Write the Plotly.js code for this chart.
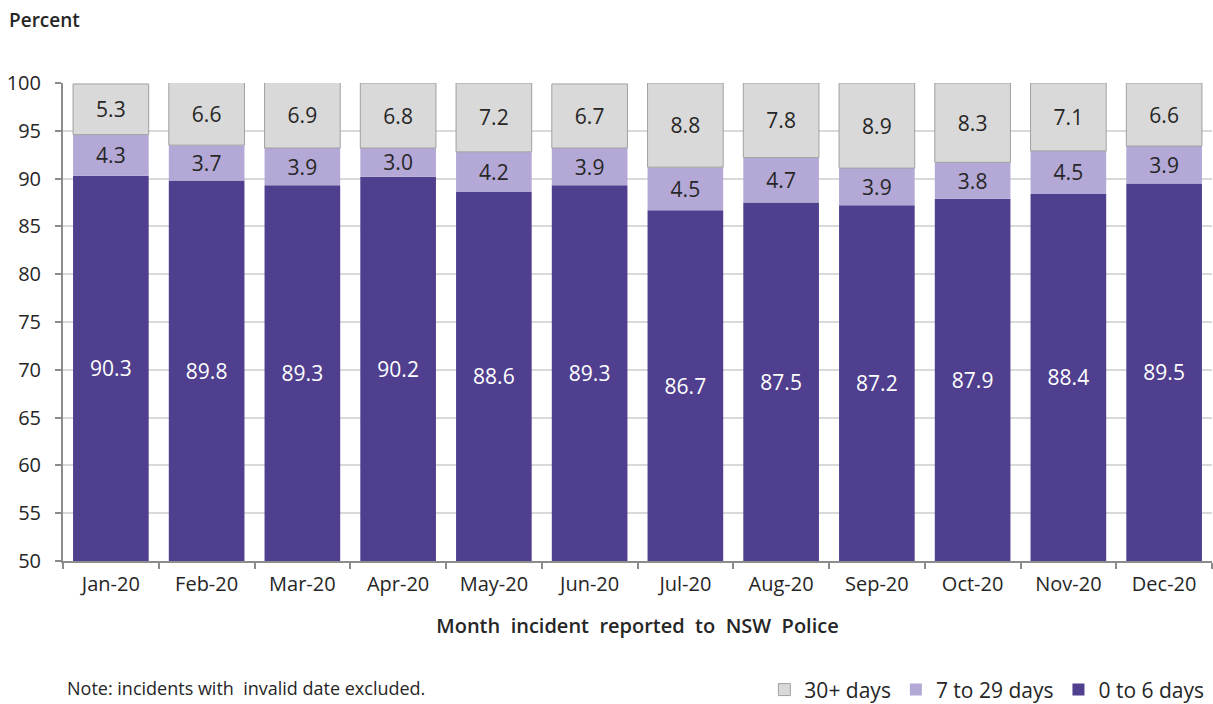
<!DOCTYPE html>
<html>
<head>
<meta charset="utf-8">
<script src="https://cdn.plot.ly/plotly-3.0.1.min.js"></script>
<style>html,body{margin:0;padding:0;background:#fff;}#chart{width:1213px;height:704px;}</style>
</head>
<body>
<div id="chart"></div>
<script>
var months = ["Jan-20","Feb-20","Mar-20","Apr-20","May-20","Jun-20","Jul-20","Aug-20","Sep-20","Oct-20","Nov-20","Dec-20"];
var days0to6 = [90.3,89.8,89.3,90.2,88.6,89.3,86.7,87.5,87.2,87.9,88.4,89.5];
var days7to29 = [4.3,3.7,3.9,3.0,4.2,3.9,4.5,4.7,3.9,3.8,4.5,3.9];
var days30plus = [5.3,6.6,6.9,6.8,7.2,6.7,8.8,7.8,8.9,8.3,7.1,6.6];
var axisMin = 50;

var FONT = "Open Sans, Noto Sans, sans-serif";
var fmt = function(v){ return v.toFixed(1); };

var base1 = days0to6.map(function(){ return axisMin; });
var len1 = days0to6.map(function(v){ return v - axisMin; });
var base2 = days0to6.slice();
var base3 = days0to6.map(function(v,i){ return v + days7to29[i]; });

var common = {
  type: "bar", x: months, width: 0.79,
  textposition: "inside", insidetextanchor: "middle", constraintext: "none",
  hoverinfo: "skip", cliponaxis: true
};

var t1 = Object.assign({}, common, {
  name: "0 to 6 days", base: base1, y: len1,
  text: days0to6.map(fmt), texttemplate: "%{text}",
  textfont: {family: FONT, size: 21, color: "#ffffff"},
  marker: {color: "#4F3F8E", line: {width: 0}}
});
var t2 = Object.assign({}, common, {
  name: "7 to 29 days", base: base2, y: days7to29,
  text: days7to29.map(fmt), texttemplate: "%{text}",
  textfont: {family: FONT, size: 21, color: "#262626"},
  marker: {color: "#B4A9D6", line: {width: 0}}
});
var t3 = Object.assign({}, common, {
  name: "30+ days", base: base3, y: days30plus,
  text: days30plus.map(fmt), texttemplate: "%{text}",
  textfont: {family: FONT, size: 21, color: "#262626"},
  marker: {color: "#D9D9D9", line: {width: 1, color: "#A0A0A0"}}
});

var layout = {
  width: 1213, height: 704,
  margin: {l: 63, r: 1, t: 83, b: 143},
  paper_bgcolor: "#ffffff", plot_bgcolor: "#ffffff",
  font: {family: FONT, size: 20, color: "#262626"},
  barmode: "overlay",
  showlegend: true,
  legend: {
    orientation: "h", traceorder: "reversed",
    xref: "container", yref: "container",
    x: 0.997, xanchor: "right", y: 0.02, yanchor: "middle",
    font: {family: FONT, size: 21, color: "#262626"},
    itemwidth: 30, bgcolor: "rgba(0,0,0,0)"
  },
  xaxis: {
    type: "category",
    showline: true, linecolor: "#8C8C8C", linewidth: 2,
    ticks: "outside", tickson: "boundaries", ticklen: 6, tickcolor: "#8C8C8C", tickwidth: 2,
    showgrid: false, zeroline: false,
    tickfont: {family: FONT, size: 20, color: "#262626"},
    ticklabelstandoff: 4,
    title: {text: "Month  incident  reported  to  NSW  Police", font: {family: FONT, size: 20, color: "#262626", weight: 600}, standoff: 23}
  },
  yaxis: {
    range: [50, 100], dtick: 5, tick0: 50,
    showline: true, linecolor: "#8C8C8C", linewidth: 2,
    ticks: "outside", ticklen: 6, tickcolor: "#8C8C8C", tickwidth: 2,
    showgrid: true, gridcolor: "#D9D9D9", gridwidth: 2,
    zeroline: false,
    tickfont: {family: FONT, size: 20, color: "#262626"},
    ticklabelstandoff: 10
  },
  annotations: [
    {text: "Percent", xref: "paper", yref: "paper", x: -0.0487, y: 1.132, xanchor: "left", yanchor: "middle", showarrow: false, font: {family: FONT, size: 19, color: "#262626", weight: 600}},
    {text: "Note: incidents with  invalid date excluded.", xref: "paper", yref: "paper", x: 0.002, y: -0.295, xanchor: "left", yanchor: "bottom", showarrow: false, font: {family: FONT, size: 18, color: "#262626"}}
  ]
};

Plotly.newPlot("chart", [t1, t2, t3], layout, {displayModeBar: false, staticPlot: true});
</script>
</body>
</html>
